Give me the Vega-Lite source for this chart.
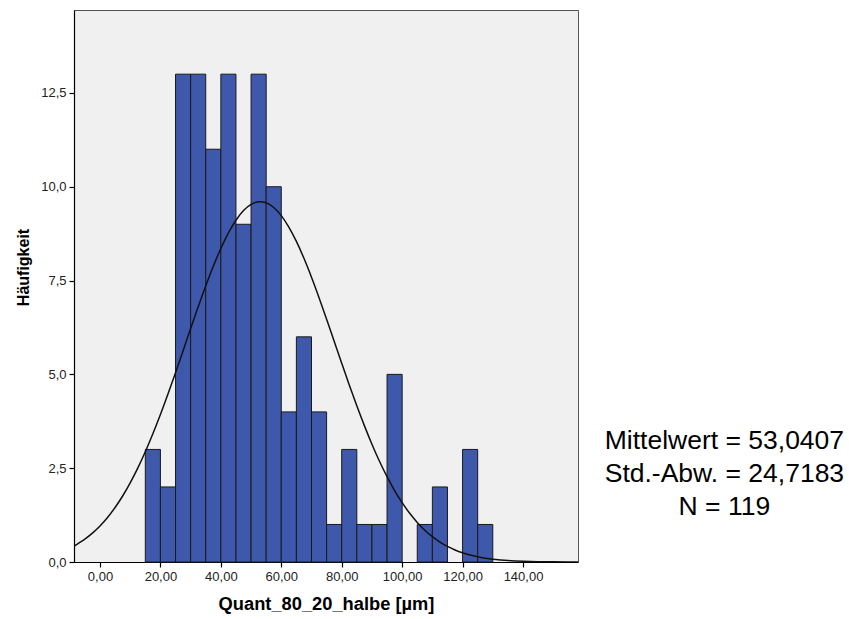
{
  "$schema": "https://vega.github.io/schema/vega-lite/v6.json",
  "width": 504,
  "height": 552,
  "autosize": {"type": "none"},
  "padding": {"left": 74, "top": 10, "right": 271, "bottom": 57},
  "background": "white",
  "config": {
    "view": {"fill": "#f0f0f0", "stroke": "#555555", "strokeWidth": 1},
    "font": "Liberation Sans",
    "axis": {"grid": false, "domainColor": "#000000", "tickColor": "#000000", "labelColor": "#222222", "labelFont": "Liberation Sans", "labelFontSize": 13, "titleFont": "Liberation Sans", "titleFontWeight": "bold", "titleColor": "#000000", "tickSize": 5, "labelPadding": 3, "domainWidth": 1.2, "tickWidth": 1.2}
  },
  "title": {
    "text": ["Mittelwert = 53,0407", "Std.-Abw. = 24,7183", "N = 119"],
    "orient": "right",
    "angle": 0,
    "anchor": "end",
    "align": "center",
    "baseline": "alphabetic",
    "offset": 143,
    "dx": -236,
    "dy": -163,
    "font": "Liberation Sans",
    "fontSize": 26.5,
    "fontWeight": "normal",
    "lineHeight": 33,
    "color": "#000000"
  },
  "datasets": {
    "bins": [
      {"bin_start": 15, "bin_end": 20, "count": 3},
      {"bin_start": 20, "bin_end": 25, "count": 2},
      {"bin_start": 25, "bin_end": 30, "count": 13},
      {"bin_start": 30, "bin_end": 35, "count": 13},
      {"bin_start": 35, "bin_end": 40, "count": 11},
      {"bin_start": 40, "bin_end": 45, "count": 13},
      {"bin_start": 45, "bin_end": 50, "count": 9},
      {"bin_start": 50, "bin_end": 55, "count": 13},
      {"bin_start": 55, "bin_end": 60, "count": 10},
      {"bin_start": 60, "bin_end": 65, "count": 4},
      {"bin_start": 65, "bin_end": 70, "count": 6},
      {"bin_start": 70, "bin_end": 75, "count": 4},
      {"bin_start": 75, "bin_end": 80, "count": 1},
      {"bin_start": 80, "bin_end": 85, "count": 3},
      {"bin_start": 85, "bin_end": 90, "count": 1},
      {"bin_start": 90, "bin_end": 95, "count": 1},
      {"bin_start": 95, "bin_end": 100, "count": 5},
      {"bin_start": 105, "bin_end": 110, "count": 1},
      {"bin_start": 110, "bin_end": 115, "count": 2},
      {"bin_start": 120, "bin_end": 125, "count": 3},
      {"bin_start": 125, "bin_end": 130, "count": 1}
    ],
    "curve": [
      {"x": -8.6, "y": 0.42},
      {"x": -7.5, "y": 0.478},
      {"x": -5, "y": 0.610},
      {"x": -2.5, "y": 0.769},
      {"x": 0, "y": 0.961},
      {"x": 2.5, "y": 1.187},
      {"x": 5, "y": 1.453},
      {"x": 7.5, "y": 1.759},
      {"x": 10, "y": 2.109},
      {"x": 12.5, "y": 2.502},
      {"x": 15, "y": 2.938},
      {"x": 17.5, "y": 3.416},
      {"x": 20, "y": 3.930},
      {"x": 22.5, "y": 4.476},
      {"x": 25, "y": 5.046},
      {"x": 27.5, "y": 5.631},
      {"x": 30, "y": 6.220},
      {"x": 32.5, "y": 6.800},
      {"x": 35, "y": 7.357},
      {"x": 37.5, "y": 7.881},
      {"x": 40, "y": 8.355},
      {"x": 42.5, "y": 8.769},
      {"x": 45, "y": 9.108},
      {"x": 47.5, "y": 9.365},
      {"x": 50, "y": 9.531},
      {"x": 52.5, "y": 9.601},
      {"x": 53.04, "y": 9.603},
      {"x": 55, "y": 9.573},
      {"x": 57.5, "y": 9.448},
      {"x": 60, "y": 9.230},
      {"x": 62.5, "y": 8.925},
      {"x": 65, "y": 8.543},
      {"x": 67.5, "y": 8.093},
      {"x": 70, "y": 7.589},
      {"x": 72.5, "y": 7.044},
      {"x": 75, "y": 6.472},
      {"x": 77.5, "y": 5.885},
      {"x": 80, "y": 5.298},
      {"x": 82.5, "y": 4.720},
      {"x": 85, "y": 4.163},
      {"x": 87.5, "y": 3.634},
      {"x": 90, "y": 3.140},
      {"x": 92.5, "y": 2.685},
      {"x": 95, "y": 2.274},
      {"x": 97.5, "y": 1.905},
      {"x": 100, "y": 1.580},
      {"x": 102.5, "y": 1.297},
      {"x": 105, "y": 1.054},
      {"x": 107.5, "y": 0.848},
      {"x": 110, "y": 0.675},
      {"x": 112.5, "y": 0.532},
      {"x": 115, "y": 0.415},
      {"x": 117.5, "y": 0.320},
      {"x": 120, "y": 0.245},
      {"x": 122.5, "y": 0.185},
      {"x": 125, "y": 0.139},
      {"x": 127.5, "y": 0.103},
      {"x": 130, "y": 0.075},
      {"x": 132.5, "y": 0.055},
      {"x": 135, "y": 0.039},
      {"x": 137.5, "y": 0.028},
      {"x": 140, "y": 0.020},
      {"x": 145, "y": 0.0095},
      {"x": 150, "y": 0.0044},
      {"x": 155, "y": 0.0019},
      {"x": 158.2, "y": 0.001}
    ]
  },
  "layer": [
    {
      "data": {"name": "bins"},
      "mark": {"type": "rect", "fill": "#3e58ac", "stroke": "#1a1a1a", "strokeWidth": 1},
      "encoding": {
        "x": {
          "field": "bin_start",
          "type": "quantitative",
          "scale": {"domain": [-8.6, 158.2], "nice": false, "zero": false},
          "axis": {
            "title": "Quant_80_20_halbe [µm]",
            "titleFontSize": 18.3,
            "titlePadding": 12,
            "values": [0, 20, 40, 60, 80, 100, 120, 140],
            "labelExpr": "replace(format(datum.value, '.2f'), '.', ',')"
          }
        },
        "x2": {"field": "bin_end"},
        "y": {
          "field": "count",
          "type": "quantitative",
          "scale": {"domain": [0, 14.71], "nice": false},
          "axis": {
            "title": "Häufigkeit",
            "titleFontSize": 16,
            "titlePadding": 9,
            "titleY": 257,
            "values": [0, 2.5, 5, 7.5, 10, 12.5],
            "labelExpr": "replace(format(datum.value, '.1f'), '.', ',')"
          }
        },
        "y2": {"datum": 0}
      }
    },
    {
      "data": {"name": "curve"},
      "mark": {"type": "line", "color": "#111111", "strokeWidth": 1.5, "clip": true, "interpolate": "monotone"},
      "encoding": {
        "x": {"field": "x", "type": "quantitative"},
        "y": {"field": "y", "type": "quantitative"}
      }
    }
  ]
}
